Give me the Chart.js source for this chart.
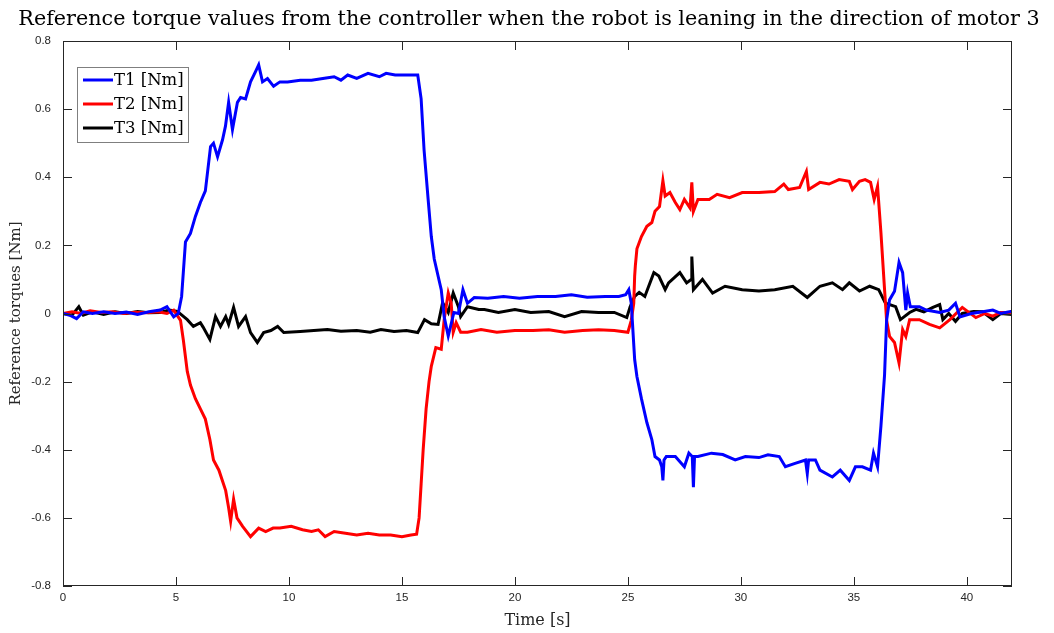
<!DOCTYPE html>
<html>
<head>
<meta charset="utf-8">
<script src="https://cdn.jsdelivr.net/npm/chart.js@4.4.1/dist/chart.umd.min.js"></script>
<style>
  html, body { margin: 0; padding: 0; background: #fff; }
  #wrap { width: 1054px; height: 633px; }
</style>
</head>
<body>
<div id="wrap"><canvas id="chart" width="1054" height="633"></canvas></div>
<script>
// [time s, torque Nm]
var t1Points = [[0,0],[0.3,-0.005],[0.6,-0.015],[0.9,0.005],[1.3,0],[1.8,0.005],[2.3,0],[2.8,0.004],[3.3,-0.003],[3.8,0.005],[4.3,0.01],[4.6,0.02],[4.9,-0.01],[5.1,0.0],[5.25,0.05],[5.42,0.21],[5.64,0.235],[5.86,0.285],[6.08,0.326],[6.3,0.36],[6.53,0.49],[6.66,0.50],[6.84,0.46],[7.06,0.51],[7.19,0.55],[7.33,0.62],[7.5,0.54],[7.72,0.62],[7.86,0.634],[8.08,0.63],[8.3,0.68],[8.52,0.71],[8.66,0.73],[8.83,0.68],[9.05,0.69],[9.32,0.667],[9.6,0.68],[9.94,0.68],[10.5,0.685],[11.0,0.685],[11.5,0.69],[12.0,0.695],[12.3,0.685],[12.6,0.70],[13.0,0.69],[13.5,0.705],[14.0,0.695],[14.3,0.705],[14.7,0.70],[15.2,0.70],[15.6,0.70],[15.7,0.70],[15.85,0.63],[15.98,0.48],[16.16,0.335],[16.3,0.226],[16.43,0.16],[16.6,0.11],[16.74,0.07],[16.87,-0.01],[17.05,-0.066],[17.3,0.003],[17.5,0.0],[17.7,0.07],[17.9,0.03],[18.2,0.047],[18.8,0.045],[19.5,0.05],[20.2,0.045],[21,0.05],[21.8,0.05],[22.5,0.055],[23.2,0.048],[24,0.05],[24.6,0.05],[24.9,0.055],[25.04,0.07],[25.15,0.03],[25.3,-0.135],[25.4,-0.185],[25.6,-0.25],[25.84,-0.32],[26.06,-0.37],[26.2,-0.42],[26.4,-0.43],[26.5,-0.45],[26.55,-0.49],[26.6,-0.43],[26.7,-0.42],[27.1,-0.42],[27.5,-0.45],[27.7,-0.41],[27.85,-0.42],[27.9,-0.51],[27.95,-0.42],[28.1,-0.42],[28.7,-0.41],[29.2,-0.414],[29.75,-0.43],[30.2,-0.42],[30.8,-0.423],[31.2,-0.415],[31.7,-0.42],[31.97,-0.45],[32.4,-0.44],[32.86,-0.43],[32.94,-0.47],[33.0,-0.43],[33.3,-0.43],[33.5,-0.46],[34.05,-0.48],[34.4,-0.46],[34.8,-0.49],[35.07,-0.45],[35.38,-0.45],[35.74,-0.46],[35.87,-0.41],[36.05,-0.45],[36.2,-0.33],[36.36,-0.18],[36.45,-0.02],[36.58,0.04],[36.8,0.065],[37.0,0.15],[37.16,0.12],[37.3,0.01],[37.38,0.06],[37.5,0.02],[37.9,0.02],[38.2,0.01],[38.8,0.003],[39.2,0.01],[39.5,0.03],[39.7,-0.01],[40.2,0.0],[40.7,0.005],[41.15,0.01],[41.5,0.0],[42,0.007]];

var t2Points = [[0,0],[0.4,0.005],[0.8,0],[1.2,0.008],[1.7,0.003],[2.2,0.005],[2.7,0],[3.2,0.004],[3.7,0.002],[4.2,0.005],[4.6,0.0],[4.9,0.01],[5.2,-0.02],[5.33,-0.08],[5.5,-0.17],[5.64,-0.21],[5.86,-0.25],[6.08,-0.28],[6.3,-0.31],[6.5,-0.37],[6.66,-0.43],[6.9,-0.46],[7.2,-0.52],[7.33,-0.57],[7.42,-0.61],[7.55,-0.545],[7.7,-0.60],[7.95,-0.625],[8.3,-0.655],[8.66,-0.63],[8.97,-0.64],[9.3,-0.63],[9.6,-0.63],[10.1,-0.625],[10.6,-0.635],[11.0,-0.64],[11.3,-0.635],[11.6,-0.655],[12.0,-0.64],[12.5,-0.645],[13.0,-0.65],[13.5,-0.645],[14.0,-0.65],[14.5,-0.65],[15.0,-0.655],[15.4,-0.65],[15.65,-0.648],[15.76,-0.6],[15.85,-0.5],[15.94,-0.4],[16.07,-0.28],[16.2,-0.2],[16.3,-0.155],[16.5,-0.1],[16.74,-0.105],[16.87,-0.018],[17.05,0.06],[17.18,0.03],[17.27,-0.055],[17.4,-0.027],[17.6,-0.055],[17.9,-0.055],[18.5,-0.047],[19.2,-0.055],[20,-0.05],[20.8,-0.05],[21.5,-0.048],[22.2,-0.055],[23,-0.05],[23.7,-0.048],[24.4,-0.05],[25.0,-0.055],[25.15,-0.02],[25.26,0.03],[25.3,0.11],[25.33,0.14],[25.4,0.19],[25.6,0.226],[25.84,0.256],[26.06,0.267],[26.2,0.30],[26.4,0.314],[26.55,0.39],[26.65,0.345],[26.86,0.355],[27.1,0.326],[27.3,0.305],[27.5,0.335],[27.75,0.31],[27.83,0.385],[27.9,0.30],[28.1,0.335],[28.6,0.335],[28.95,0.35],[29.5,0.34],[30.06,0.355],[30.8,0.355],[31.5,0.358],[31.9,0.38],[32.1,0.364],[32.6,0.37],[32.9,0.417],[33.0,0.364],[33.5,0.385],[33.9,0.38],[34.35,0.393],[34.8,0.388],[34.94,0.364],[35.25,0.388],[35.5,0.393],[35.74,0.385],[35.9,0.335],[36.05,0.373],[36.2,0.237],[36.36,0.07],[36.45,-0.02],[36.58,-0.067],[36.8,-0.085],[37.0,-0.145],[37.16,-0.047],[37.3,-0.067],[37.47,-0.018],[37.9,-0.018],[38.35,-0.032],[38.8,-0.042],[39.25,-0.018],[39.8,0.018],[40.4,-0.012],[40.8,0.0],[41.15,-0.008],[41.5,0.003],[42,0.003]];

var t3Points = [[0,0],[0.4,-0.005],[0.7,0.02],[0.9,-0.005],[1.3,0.005],[1.8,-0.003],[2.3,0.005],[2.8,0],[3.3,0.006],[3.8,0.002],[4.3,0.003],[4.7,0.01],[5.06,0.006],[5.5,-0.018],[5.77,-0.038],[6.08,-0.027],[6.2,-0.04],[6.5,-0.076],[6.75,-0.009],[6.97,-0.038],[7.2,-0.009],[7.33,-0.032],[7.55,0.018],[7.77,-0.038],[8.08,-0.009],[8.3,-0.056],[8.6,-0.085],[8.88,-0.056],[9.2,-0.05],[9.5,-0.038],[9.77,-0.056],[10.5,-0.053],[11.1,-0.05],[11.7,-0.047],[12.3,-0.052],[13,-0.05],[13.6,-0.055],[14.07,-0.047],[14.65,-0.053],[15.2,-0.05],[15.7,-0.056],[16.0,-0.018],[16.3,-0.03],[16.6,-0.032],[16.8,0.032],[17.05,0.003],[17.27,0.06],[17.5,0.02],[17.6,-0.009],[17.9,0.02],[18.4,0.012],[18.65,0.012],[19.27,0.003],[20.0,0.012],[20.7,0.003],[21.5,0.006],[22.2,-0.009],[22.95,0.006],[23.7,0.003],[24.4,0.003],[24.95,-0.012],[25.1,0.02],[25.3,0.05],[25.5,0.062],[25.75,0.05],[26.15,0.12],[26.37,0.11],[26.65,0.07],[26.8,0.09],[27.3,0.12],[27.6,0.09],[27.8,0.1],[27.83,0.167],[27.9,0.07],[28.3,0.1],[28.75,0.06],[29.3,0.08],[30.06,0.07],[30.8,0.066],[31.5,0.07],[32.3,0.08],[32.94,0.047],[33.5,0.08],[34.05,0.09],[34.5,0.07],[34.8,0.09],[35.25,0.066],[35.7,0.08],[36.1,0.07],[36.4,0.03],[36.85,0.02],[37.06,-0.018],[37.47,0.003],[37.75,0.012],[38.1,0.005],[38.5,0.018],[38.8,0.026],[38.94,-0.018],[39.2,0.0],[39.5,-0.023],[39.8,0.0],[40.3,0.006],[40.7,0.005],[41.15,-0.018],[41.5,0.0],[42,-0.003]];

var seriesLabels = ["T1 [Nm]", "T2 [Nm]", "T3 [Nm]"];
var seriesColors = ["#0000ff", "#ff0000", "#000000"];
var xTicks = [0, 5, 10, 15, 20, 25, 30, 35, 40];
var yTicks = [-0.8, -0.6, -0.4, -0.2, 0, 0.2, 0.4, 0.6, 0.8];
var chartTitle = "Reference torque values from the controller when the robot is leaning in the direction of motor 3";

function toXY(points) {
    return points.map(function (p) { return { x: p[0], y: p[1] }; });
}

var serif = "'DejaVu Serif', serif";
var sans = "'Liberation Sans', Arial, sans-serif";

// MATLAB-like box with inward ticks, title over the whole figure, legend inside the axes
var boxPlugin = {
    id: 'boxPlugin',
    afterDraw: function (chart) {
        var c = chart.ctx;
        var a = chart.chartArea;
        var xs = chart.scales.x, ys = chart.scales.y;
        c.save();

        c.fillStyle = "#000";
        c.font = "20.7px " + serif;
        c.textAlign = "center";
        c.textBaseline = "middle";
        c.fillText(chartTitle, chart.width / 2 + 2, 20);
        c.textAlign = "left";

        c.strokeStyle = "#262626";
        c.lineWidth = 1;
        c.strokeRect(a.left + 0.5, a.top + 0.5, a.right - a.left - 1, a.bottom - a.top - 1);
        c.beginPath();
        xTicks.forEach(function (t) {
            var px = Math.round(xs.getPixelForValue(t)) + 0.5;
            c.moveTo(px, a.bottom); c.lineTo(px, a.bottom - 9);
            c.moveTo(px, a.top); c.lineTo(px, a.top + 9);
        });
        yTicks.forEach(function (t) {
            var py = Math.round(ys.getPixelForValue(t)) + 0.5;
            c.moveTo(a.left, py); c.lineTo(a.left + 9, py);
            c.moveTo(a.right, py); c.lineTo(a.right - 9, py);
        });
        c.stroke();

        // legend
        var lx = a.left + 14, ly = a.top + 26;
        c.fillStyle = "#fff";
        c.fillRect(lx, ly, 111, 75);
        c.strokeStyle = "#7f7f7f";
        c.strokeRect(lx + 0.5, ly + 0.5, 111, 75);
        c.font = "16.5px " + serif;
        chart.data.datasets.forEach(function (ds, i) {
            var yy = ly + 13 + i * 24;
            c.strokeStyle = ds.borderColor;
            c.lineWidth = 3;
            c.beginPath();
            c.moveTo(lx + 6, yy); c.lineTo(lx + 36, yy);
            c.stroke();
            c.fillStyle = "#000";
            c.fillText(ds.label, lx + 37, yy + 1);
        });
        c.restore();
    }
};

var ctx = document.getElementById("chart");
var chart = new Chart(ctx, {
    type: 'line',
    data: {
        datasets: [
            { label: seriesLabels[0], data: toXY(t1Points), borderColor: seriesColors[0], borderWidth: 3, pointRadius: 0, tension: 0 },
            { label: seriesLabels[1], data: toXY(t2Points), borderColor: seriesColors[1], borderWidth: 3, pointRadius: 0, tension: 0 },
            { label: seriesLabels[2], data: toXY(t3Points), borderColor: seriesColors[2], borderWidth: 3, pointRadius: 0, tension: 0 }
        ]
    },
    options: {
        responsive: false,
        animation: false,
        layout: { padding: { left: 0, right: 42, top: 41, bottom: 0 } },
        plugins: {
            legend: { display: false },
            tooltip: { enabled: false },
            title: { display: false }
        },
        scales: {
            x: {
                type: 'linear',
                min: 0, max: 42,
                afterBuildTicks: function (s) { s.ticks = xTicks.map(function (v) { return { value: v }; }); },
                afterFit: function (s) { s.height = 47; },
                grid: { display: false },
                border: { display: false },
                ticks: { color: "#262626", font: { family: sans, size: 11.5 }, padding: -3, maxRotation: 0 },
                title: { display: true, text: "Time [s]", color: "#262626", font: { family: serif, size: 16 }, padding: { top: 0, bottom: 3 } }
            },
            y: {
                min: -0.8, max: 0.8,
                afterBuildTicks: function (s) { s.ticks = yTicks.map(function (v) { return { value: v }; }); },
                afterFit: function (s) { s.width = 63; },
                grid: { display: false },
                border: { display: false },
                ticks: {
                    color: "#262626", font: { family: sans, size: 11.5 }, padding: 4,
                    callback: function (v) { return v === 0 ? "0" : (Math.round(v * 10) / 10).toString(); }
                },
                title: { display: true, text: "Reference torques [Nm]", color: "#262626", font: { family: serif, size: 15 }, padding: { top: 7, bottom: 4 } }
            }
        }
    },
    plugins: [boxPlugin]
});
</script>
</body>
</html>
